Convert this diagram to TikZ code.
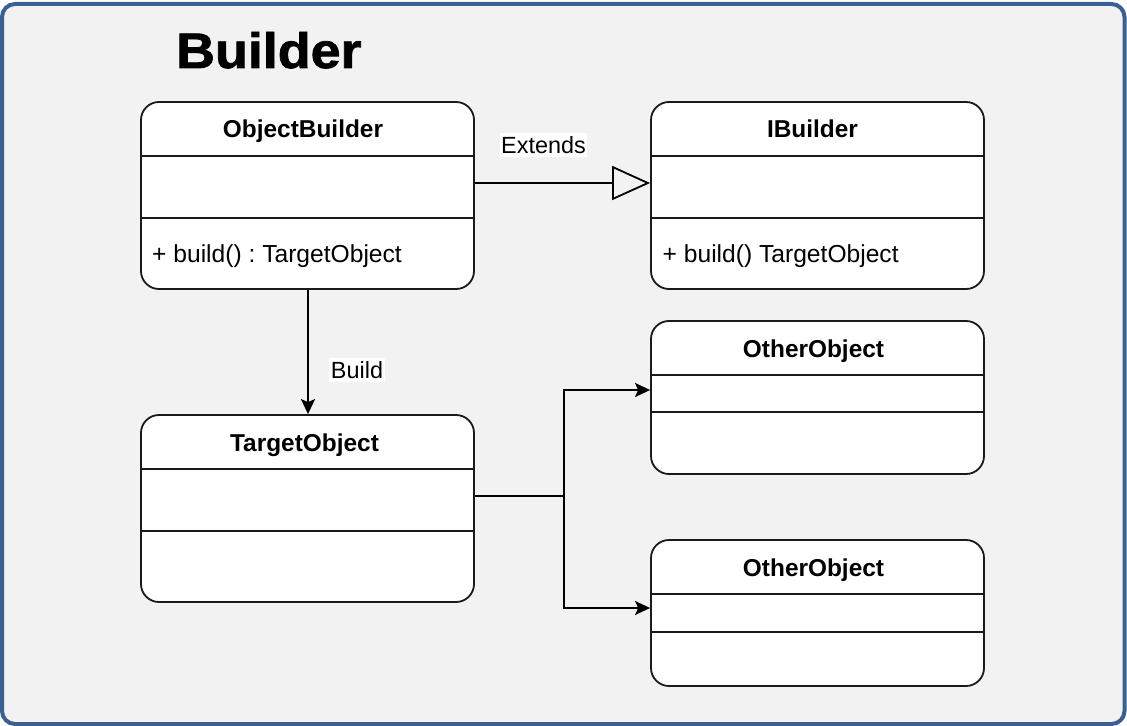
\documentclass[tikz,border=0pt]{standalone}
\usepackage{fontspec}
\setmainfont{Liberation Sans}
\newfontfamily\titlefont[FakeStretch=1.08, FakeBold=1.5]{Liberation Sans Bold}
\usetikzlibrary{arrows.meta}
\frenchspacing
\definecolor{frameblue}{HTML}{3A5F91}
\definecolor{bggray}{HTML}{F2F2F2}
\definecolor{ink}{HTML}{1A1A1A}
\tikzset{
  classbox/.style={draw=ink, line width=1.8bp, fill=white, rounded corners=18bp, inner sep=0pt},
  divider/.style={draw=ink, line width=1.8bp},
  hdr/.style={font=\fontsize{24.5}{28}\selectfont\bfseries, text=black, inner sep=0pt, anchor=base},
  member/.style={font=\fontsize{24.7}{28}\selectfont\frenchspacing, text=black, inner sep=0pt, anchor=base west},
  conn/.style={draw=black, line width=1.8bp},
  lbl/.style={font=\fontsize{23.5}{27}\selectfont, fill=white, inner xsep=1.5bp, inner ysep=3bp},
  filledtip/.style={-{Stealth[length=15bp, width=14bp, inset=3bp]}},
  opentip/.style={-{Triangle[open, length=38bp, width=34bp, fill=bggray]}}
}
\begin{document}
\begin{tikzpicture}[x=1bp, y=-1bp]
\useasboundingbox (0,0) rectangle (1127,726);
\draw[frameblue, line width=4bp, fill=bggray, rounded corners=13bp] (2,4) rectangle (1124.5,724);
\node[font=\fontsize{50}{56}\titlefont, anchor=base west, inner sep=0pt] (title) at (176,68) {Builder};

% ObjectBuilder
\node[classbox, minimum width=333bp, minimum height=187bp] (ob) at (307.5,195.5) {};
\draw[divider] (ob.west |- 0,156) -- (ob.east |- 0,156);
\draw[divider] (ob.west |- 0,218) -- (ob.east |- 0,218);
\node[hdr] (obh) at (303,138) {ObjectBuilder};
\node[member] (obm) at (152,262.5) {+ build() : TargetObject};

% IBuilder
\node[classbox, minimum width=333bp, minimum height=187bp] (ib) at (817.5,195.5) {};
\draw[divider] (ib.west |- 0,156) -- (ib.east |- 0,156);
\draw[divider] (ib.west |- 0,218) -- (ib.east |- 0,218);
\node[hdr] (ibh) at (812.5,138) {IBuilder};
\node[member] (ibm) at (662.5,262.5) {+ build() TargetObject};

% TargetObject
\node[classbox, minimum width=333bp, minimum height=187bp] (to) at (307.5,508.5) {};
\draw[divider] (to.west |- 0,469) -- (to.east |- 0,469);
\draw[divider] (to.west |- 0,531) -- (to.east |- 0,531);
\node[hdr] (toh) at (304.5,451) {TargetObject};

% OtherObject 1
\node[classbox, minimum width=333bp, minimum height=153bp] (o1) at (817.5,397.5) {};
\draw[divider] (o1.west |- 0,375) -- (o1.east |- 0,375);
\draw[divider] (o1.west |- 0,412) -- (o1.east |- 0,412);
\node[hdr] (o1h) at (813.5,357) {OtherObject};

% OtherObject 2
\node[classbox, minimum width=333bp, minimum height=146bp] (o2) at (817.5,613) {};
\draw[divider] (o2.west |- 0,594) -- (o2.east |- 0,594);
\draw[divider] (o2.west |- 0,632) -- (o2.east |- 0,632);
\node[hdr] (o2h) at (813.5,576) {OtherObject};

% Connectors
\draw[conn, opentip] (ob.east |- 0,183) -- (ib.west |- 0,183);
\node[lbl] (ext) at (543.5,145) {Extends};

\draw[conn, filledtip] (ob.south -| 308,0) -- (to.north -| 308,0);
\node[lbl] (bld) at (357,370) {Build};

\coordinate (fork) at (564,496);
\draw[conn] (to.east |- fork) -- (fork);
\draw[conn, filledtip] (fork) -- (564,390) -- (o1.west |- 0,390);
\draw[conn, filledtip] (fork) -- (564,608) -- (o2.west |- 0,608);
\end{tikzpicture}
\end{document}
